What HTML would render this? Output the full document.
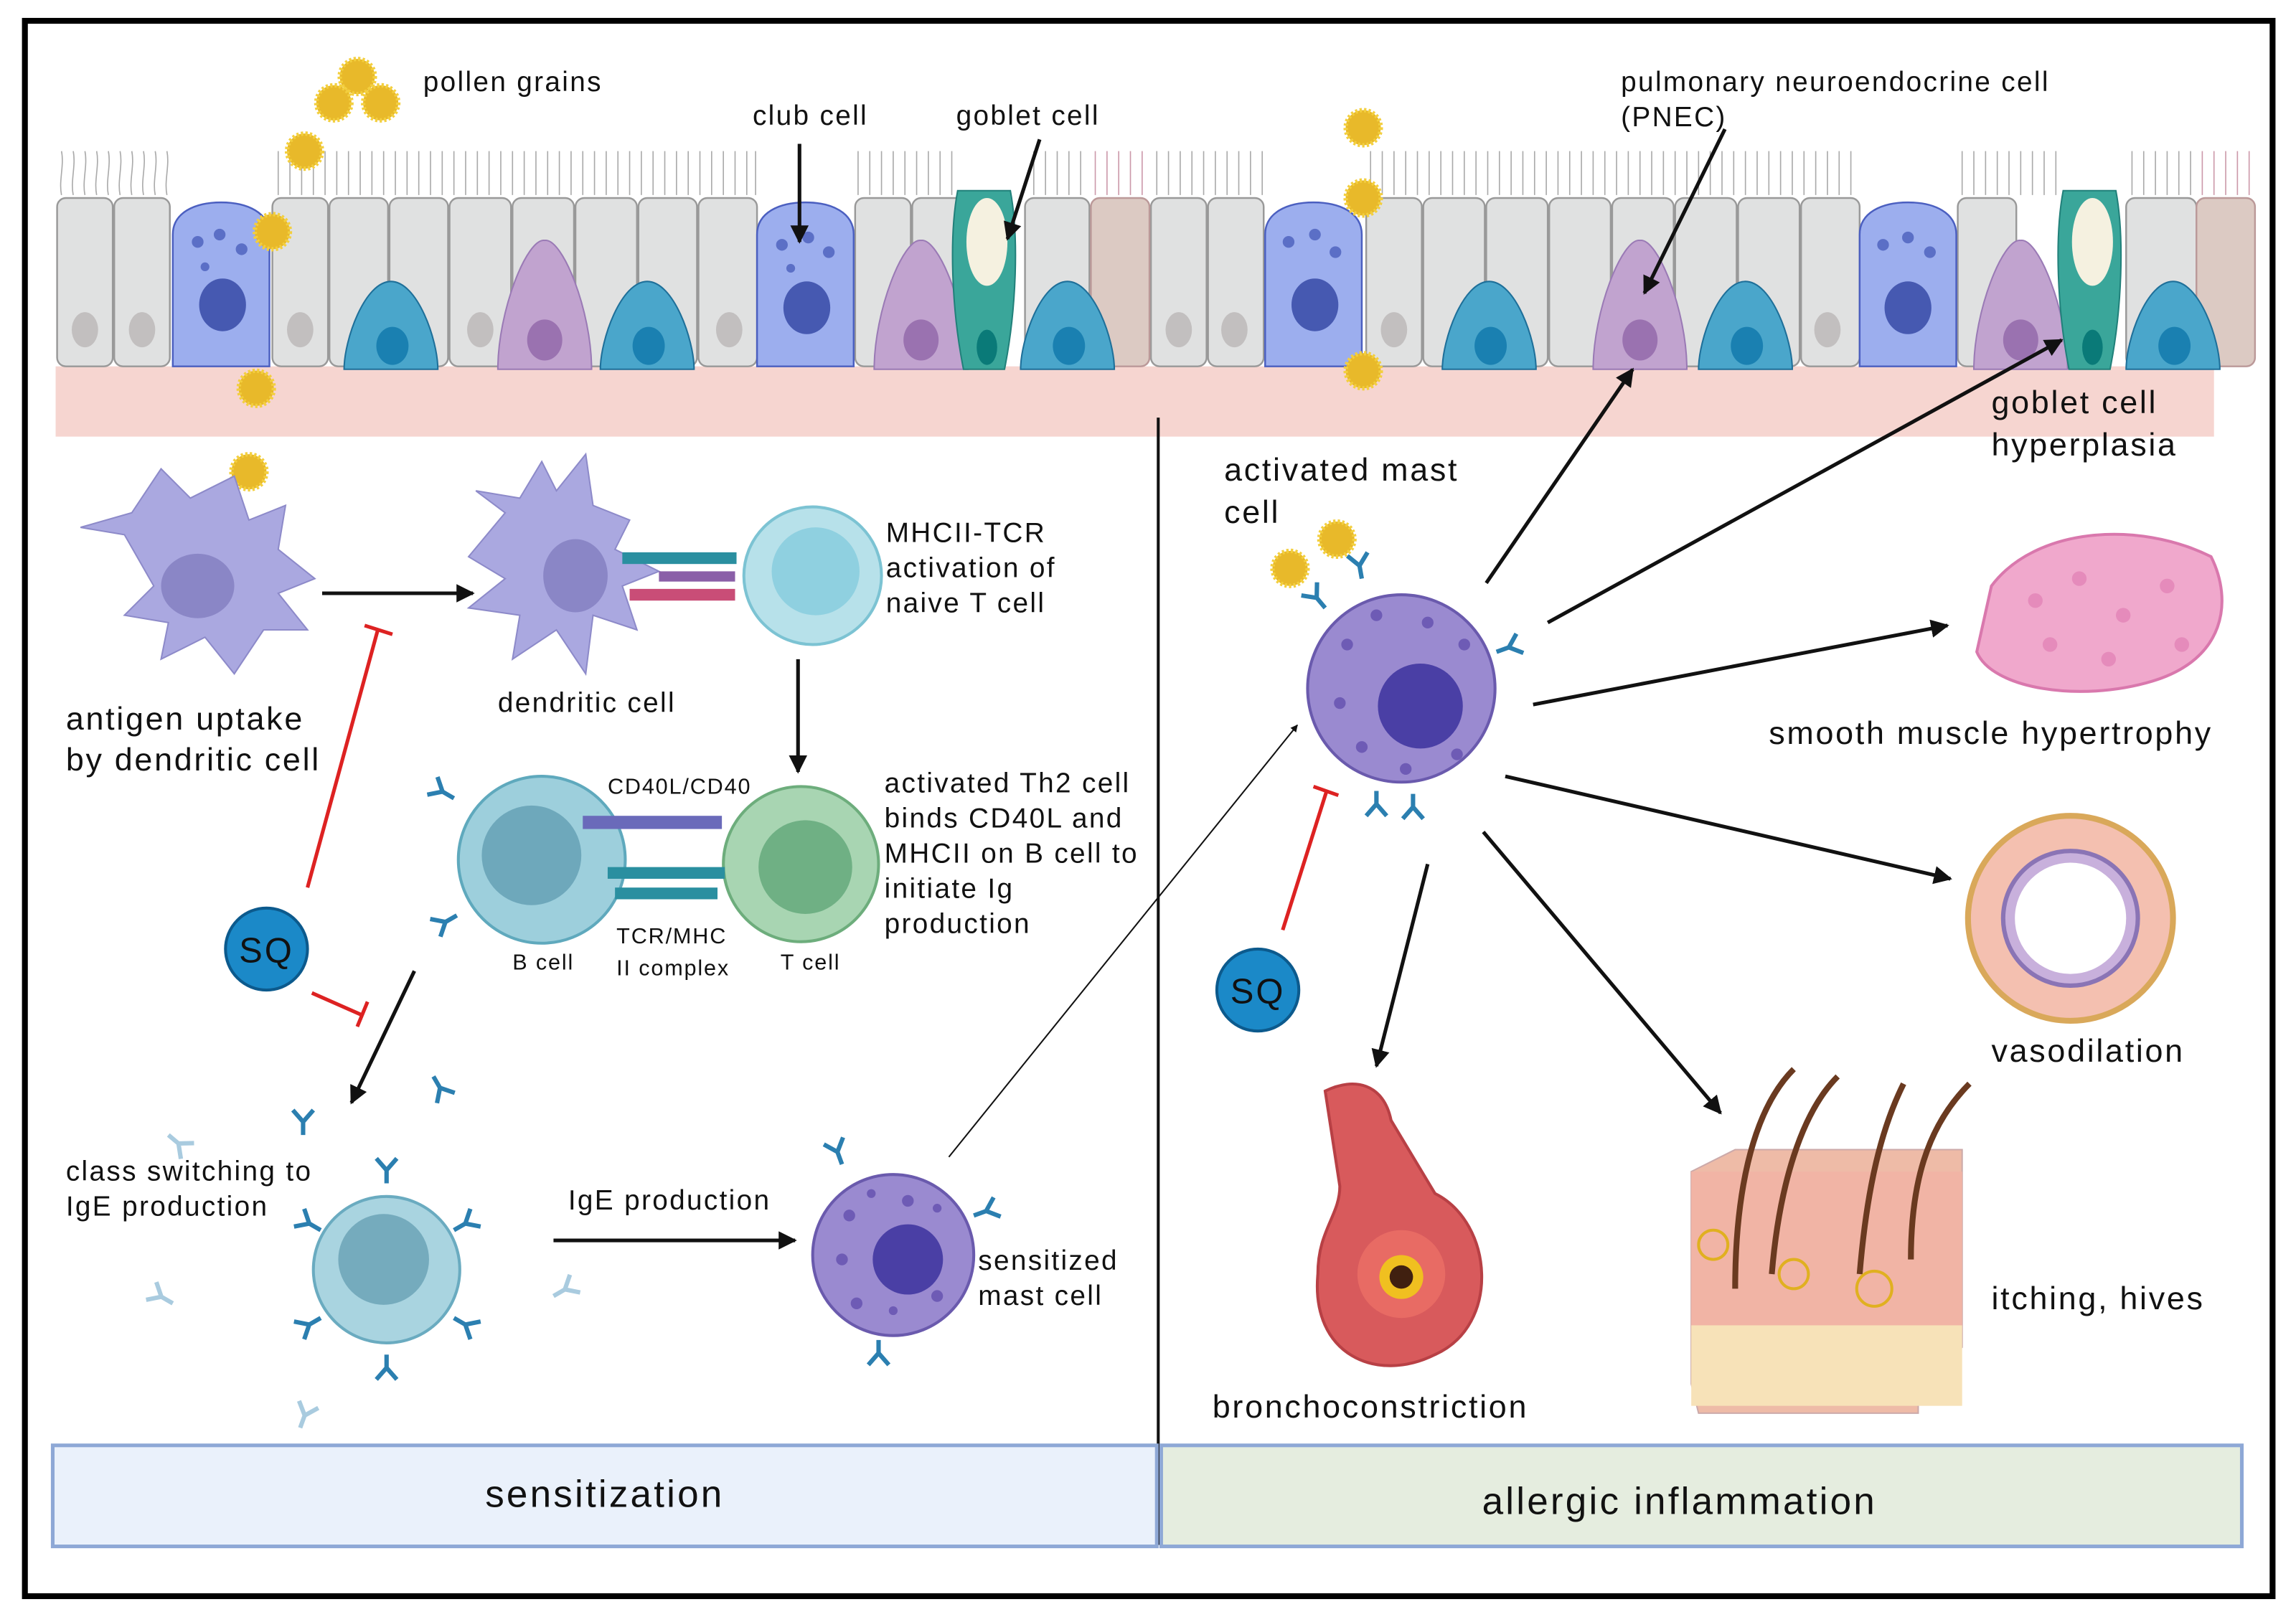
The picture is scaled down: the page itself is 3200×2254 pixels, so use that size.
<!DOCTYPE html>
<html><head><meta charset="utf-8"><style>
html,body{margin:0;padding:0;background:#fff}
svg{display:block}
text{font-family:"Liberation Sans",sans-serif;fill:#111;letter-spacing:0.06em}
</style></head><body>
<svg width="3200" height="2254" viewBox="0 0 1568 1104" xmlns="http://www.w3.org/2000/svg">
<defs>
<marker id="ah" viewBox="0 0 10 10" refX="9" refY="5" markerWidth="5" markerHeight="5" orient="auto"><path d="M0,0L10,5L0,10z" fill="#111"/></marker>
<g id="pol"><circle r="12" fill="#e8b92a" stroke="#f3cf3e" stroke-width="3" stroke-dasharray="1.5 1.5"/></g>
<g id="ab" stroke="#2b7fb0" stroke-width="3" fill="none"><path d="M0,0v-9M0,-9l-7,-8M0,-9l7,-8"/></g>
</defs>
<rect x="17" y="14" width="1535" height="1076" fill="#fff" stroke="#000" stroke-width="4"/>
<rect x="38" y="250" width="1474" height="48" fill="#f6d5d0"/>
<g fill="#e0e1e1" stroke="#999" stroke-width="1.2">
<rect x="39" y="135" width="38" height="115" rx="6"/><rect x="78" y="135" width="38" height="115" rx="6"/>
<rect x="186" y="135" width="38" height="115" rx="6"/><rect x="225" y="135" width="40" height="115" rx="6"/><rect x="266" y="135" width="40" height="115" rx="6"/><rect x="307" y="135" width="42" height="115" rx="6"/><rect x="350" y="135" width="42" height="115" rx="6"/><rect x="393" y="135" width="42" height="115" rx="6"/><rect x="436" y="135" width="40" height="115" rx="6"/><rect x="477" y="135" width="40" height="115" rx="6"/>
<rect x="584" y="135" width="38" height="115" rx="6"/><rect x="623" y="135" width="38" height="115" rx="6"/><rect x="700" y="135" width="44" height="115" rx="6"/>
<rect x="786" y="135" width="38" height="115" rx="6"/><rect x="825" y="135" width="38" height="115" rx="6"/>
<rect x="933" y="135" width="38" height="115" rx="6"/><rect x="972" y="135" width="42" height="115" rx="6"/><rect x="1015" y="135" width="42" height="115" rx="6"/><rect x="1058" y="135" width="42" height="115" rx="6"/><rect x="1101" y="135" width="42" height="115" rx="6"/><rect x="1144" y="135" width="42" height="115" rx="6"/><rect x="1187" y="135" width="42" height="115" rx="6"/><rect x="1230" y="135" width="40" height="115" rx="6"/>
<rect x="1337" y="135" width="40" height="115" rx="6"/><rect x="1452" y="135" width="48" height="115" rx="6"/>
</g>
<g fill="#dccac3" stroke="#b99" stroke-width="1.2"><rect x="745" y="135" width="40" height="115" rx="6"/><rect x="1500" y="135" width="40" height="115" rx="6"/></g>
<g fill="#c2bfbf"><ellipse cx="58" cy="225" rx="9" ry="12"/><ellipse cx="97" cy="225" rx="9" ry="12"/><ellipse cx="205" cy="225" rx="9" ry="12"/><ellipse cx="328" cy="225" rx="9" ry="12"/><ellipse cx="498" cy="225" rx="9" ry="12"/><ellipse cx="805" cy="225" rx="9" ry="12"/><ellipse cx="843" cy="225" rx="9" ry="12"/><ellipse cx="952" cy="225" rx="9" ry="12"/><ellipse cx="1248" cy="225" rx="9" ry="12"/></g>
<g stroke="#aaa" stroke-width="0.8" fill="none">
<path d="M42,133c-2,-10 2,-20 0,-30M50,133c-2,-10 2,-20 0,-30M58,133c-2,-10 2,-20 0,-30M66,133c-2,-10 2,-20 0,-30M74,133c-2,-10 2,-20 0,-30M82,133c-2,-10 2,-20 0,-30M90,133c-2,-10 2,-20 0,-30M98,133c-2,-10 2,-20 0,-30M106,133c-2,-10 2,-20 0,-30M114,133c-2,-10 2,-20 0,-30"/>
<path d="M190,133v-30M198,133v-30M206,133v-30M214,133v-30M222,133v-30M230,133v-30M238,133v-30M246,133v-30M254,133v-30M262,133v-30M270,133v-30M278,133v-30M286,133v-30M294,133v-30M302,133v-30M310,133v-30M318,133v-30M326,133v-30M334,133v-30M342,133v-30M350,133v-30M358,133v-30M366,133v-30M374,133v-30M382,133v-30M390,133v-30M398,133v-30M406,133v-30M414,133v-30M422,133v-30M430,133v-30M438,133v-30M446,133v-30M454,133v-30M462,133v-30M470,133v-30M478,133v-30M486,133v-30M494,133v-30M502,133v-30M510,133v-30M516,133v-30"/>
<path d="M586,133v-30M594,133v-30M602,133v-30M610,133v-30M618,133v-30M626,133v-30M634,133v-30M642,133v-30M650,133v-30M706,133v-30M714,133v-30M722,133v-30M730,133v-30M738,133v-30M790,133v-30M798,133v-30M806,133v-30M814,133v-30M822,133v-30M830,133v-30M838,133v-30M846,133v-30M854,133v-30M862,133v-30"/>
<path d="M936,133v-30M944,133v-30M952,133v-30M960,133v-30M968,133v-30M976,133v-30M984,133v-30M992,133v-30M1000,133v-30M1008,133v-30M1016,133v-30M1024,133v-30M1032,133v-30M1040,133v-30M1048,133v-30M1056,133v-30M1064,133v-30M1072,133v-30M1080,133v-30M1088,133v-30M1096,133v-30M1104,133v-30M1112,133v-30M1120,133v-30M1128,133v-30M1136,133v-30M1144,133v-30M1152,133v-30M1160,133v-30M1168,133v-30M1176,133v-30M1184,133v-30M1192,133v-30M1200,133v-30M1208,133v-30M1216,133v-30M1224,133v-30M1232,133v-30M1240,133v-30M1248,133v-30M1256,133v-30M1264,133v-30"/>
<path d="M1340,133v-30M1348,133v-30M1356,133v-30M1364,133v-30M1372,133v-30M1380,133v-30M1388,133v-30M1396,133v-30M1404,133v-30M1456,133v-30M1464,133v-30M1472,133v-30M1480,133v-30M1488,133v-30M1496,133v-30"/>
</g>
<g stroke="#c9a" stroke-width="0.8"><path d="M748,133v-30M756,133v-30M764,133v-30M772,133v-30M780,133v-30M1504,133v-30M1512,133v-30M1520,133v-30M1528,133v-30M1536,133v-30"/></g>
<g fill="#9caeee" stroke="#4b5fc0" stroke-width="1.2">
<path d="M118,250v-90c0,-15 15,-22 33,-22s33,7 33,22v90z"/>
<path d="M517,250v-90c0,-15 15,-22 33,-22s33,7 33,22v90z"/>
<path d="M864,250v-90c0,-15 15,-22 33,-22s33,7 33,22v90z"/>
<path d="M1270,250v-90c0,-15 15,-22 33,-22s33,7 33,22v90z"/>
</g>
<g fill="#4659b1"><ellipse cx="152" cy="208" rx="16" ry="18"/><ellipse cx="551" cy="210" rx="16" ry="18"/><ellipse cx="898" cy="208" rx="16" ry="18"/><ellipse cx="1303" cy="210" rx="16" ry="18"/></g>
<g fill="#5b6fc6"><circle cx="135" cy="165" r="4"/><circle cx="150" cy="160" r="4"/><circle cx="165" cy="170" r="4"/><circle cx="140" cy="182" r="3"/><circle cx="534" cy="167" r="4"/><circle cx="552" cy="162" r="4"/><circle cx="566" cy="172" r="4"/><circle cx="540" cy="183" r="3"/><circle cx="880" cy="165" r="4"/><circle cx="898" cy="160" r="4"/><circle cx="912" cy="172" r="4"/><circle cx="1286" cy="167" r="4"/><circle cx="1303" cy="162" r="4"/><circle cx="1318" cy="172" r="4"/></g>
<g fill="#c1a3cf" stroke="#9a7ab5" stroke-width="1"><path d="M340,252c0,-40 20,-90 32,-88c12,-2 32,48 32,88z"/><path d="M597,252c0,-40 20,-90 32,-88c12,-2 32,48 32,88z"/><path d="M1088,252c0,-40 20,-90 32,-88c12,-2 32,48 32,88z"/><path d="M1348,252c0,-40 20,-90 32,-88c12,-2 32,48 32,88z"/></g>
<g fill="#9a72b0"><ellipse cx="372" cy="232" rx="12" ry="14"/><ellipse cx="629" cy="232" rx="12" ry="14"/><ellipse cx="1120" cy="232" rx="12" ry="14"/><ellipse cx="1380" cy="232" rx="12" ry="14"/></g>
<g fill="#4aa6cb" stroke="#1e6f99" stroke-width="1"><path d="M235,252c0,-20 14,-60 32,-60s32,40 32,60z"/><path d="M410,252c0,-20 14,-60 32,-60s32,40 32,60z"/><path d="M697,252c0,-20 14,-60 32,-60s32,40 32,60z"/><path d="M985,252c0,-20 14,-60 32,-60s32,40 32,60z"/><path d="M1160,252c0,-20 14,-60 32,-60s32,40 32,60z"/><path d="M1452,252c0,-20 14,-60 32,-60s32,40 32,60z"/></g>
<g fill="#1a80b1"><ellipse cx="268" cy="236" rx="11" ry="13"/><ellipse cx="443" cy="236" rx="11" ry="13"/><ellipse cx="730" cy="236" rx="11" ry="13"/><ellipse cx="1018" cy="236" rx="11" ry="13"/><ellipse cx="1193" cy="236" rx="11" ry="13"/><ellipse cx="1485" cy="236" rx="11" ry="13"/></g>
<g fill="#3aa69a" stroke="#21807a" stroke-width="1"><path d="M658,252c-8,-40 -10,-90 -4,-122h36c6,32 4,82 -4,122z"/><path d="M1413,252c-8,-40 -10,-90 -4,-122h36c6,32 4,82 -4,122z"/></g>
<g fill="#f5f1e0"><ellipse cx="674" cy="165" rx="14" ry="30"/><ellipse cx="1429" cy="165" rx="14" ry="30"/></g>
<g fill="#0a7a78"><ellipse cx="674" cy="237" rx="7" ry="12"/><ellipse cx="1429" cy="237" rx="7" ry="12"/></g>
<use href="#pol" x="244" y="52"/><use href="#pol" x="228" y="70"/><use href="#pol" x="260" y="70"/><use href="#pol" x="208" y="103"/><use href="#pol" x="186" y="158"/><use href="#pol" x="175" y="265"/><use href="#pol" x="931" y="87"/><use href="#pol" x="931" y="135"/><use href="#pol" x="931" y="253"/><use href="#pol" x="170" y="322"/><use href="#pol" x="881" y="388"/><use href="#pol" x="913" y="368"/>
<text x="289" y="62" font-size="19">pollen grains</text>
<text x="514" y="85" font-size="19">club cell</text>
<text x="653" y="85" font-size="19">goblet cell</text>
<text x="1107" y="62" font-size="19">pulmonary neuroendocrine cell</text>
<text x="1107" y="86" font-size="19">(PNEC)</text>
<g stroke="#111" stroke-width="2.5" fill="none" marker-end="url(#ah)">
<line x1="546" y1="98" x2="546" y2="165"/><line x1="710" y1="95" x2="688" y2="163"/><line x1="1178" y1="88" x2="1123" y2="200"/>
</g>
<line x1="791" y1="285" x2="791" y2="1055" stroke="#111" stroke-width="2"/>
<g fill="#aaa8e0" stroke="#8d8ac9" stroke-width="1"><path d="M85,365l-30,-5 35,-10 20,-30 20,20 30,-15 10,30 25,-10 -5,30 25,20 -25,10 20,25 -30,0 -20,30 -20,-25 -30,15 5,-25 -30,-5 20,-20z"/>
<path d="M345,350l-20,-15 30,5 15,-25 10,20 20,-25 5,35 25,10 -10,20 30,15 -25,10 10,30 -30,-10 -5,40 -20,-30 -30,20 5,-30 -35,-5 25,-20 -25,-15z"/></g>
<ellipse cx="135" cy="400" rx="25" ry="22" fill="#8a86c6"/><ellipse cx="393" cy="393" rx="22" ry="25" fill="#8a86c6"/>
<text x="45" y="498" font-size="22">antigen uptake</text><text x="45" y="526" font-size="22">by dendritic cell</text>
<text x="340" y="486" font-size="19">dendritic cell</text>
<line x1="220" y1="405" x2="323" y2="405" stroke="#111" stroke-width="2.5" marker-end="url(#ah)"/>
<circle cx="555" cy="393" r="47" fill="#b7e1ea" stroke="#7cc3d3" stroke-width="2"/><circle cx="557" cy="390" r="30" fill="#8fd0e0"/>
<rect x="425" y="377" width="78" height="8" fill="#2a8fa0"/><rect x="450" y="390" width="52" height="7" fill="#8a5fa8"/><rect x="430" y="402" width="72" height="8" fill="#c94d77"/>
<text x="605" y="370" font-size="19">MHCII-TCR</text><text x="605" y="394" font-size="19">activation of</text><text x="605" y="418" font-size="19">naive T cell</text>
<line x1="545" y1="450" x2="545" y2="527" stroke="#111" stroke-width="2.5" marker-end="url(#ah)"/>
<circle cx="370" cy="587" r="57" fill="#9dcfdc" stroke="#5fa9bd" stroke-width="2"/><circle cx="363" cy="584" r="34" fill="#6ea8bb"/>
<circle cx="547" cy="590" r="53" fill="#a8d5b2" stroke="#6dad7c" stroke-width="2"/><circle cx="550" cy="592" r="32" fill="#6fb084"/>
<rect x="398" y="557" width="95" height="9" fill="#6a6aba"/><rect x="415" y="592" width="80" height="8" fill="#2a8fa0"/><rect x="420" y="606" width="70" height="8" fill="#2a8fa0"/>
<use href="#ab" x="310" y="545" transform="rotate(-60 310 545)"/><use href="#ab" x="312" y="625" transform="rotate(-120 312 625)"/>
<text x="415" y="542" font-size="15">CD40L/CD40</text><text x="421" y="644" font-size="15">TCR/MHC</text><text x="421" y="666" font-size="15">II complex</text>
<text x="350" y="662" font-size="15">B cell</text><text x="533" y="662" font-size="15">T cell</text>
<text x="604" y="541" font-size="19">activated Th2 cell</text><text x="604" y="565" font-size="19">binds CD40L and</text><text x="604" y="589" font-size="19">MHCII on B cell to</text><text x="604" y="613" font-size="19">initiate Ig</text><text x="604" y="637" font-size="19">production</text>
<circle cx="182" cy="648" r="28" fill="#1b89c8" stroke="#0c5a8d" stroke-width="2"/><text x="182" y="657" font-size="24" text-anchor="middle">SQ</text>
<g stroke="#d22" stroke-width="2.5"><line x1="210" y1="606" x2="258" y2="430"/><line x1="249" y1="427" x2="268" y2="433"/><line x1="213" y1="678" x2="247" y2="693"/><line x1="251" y1="684" x2="244" y2="701"/></g>
<line x1="283" y1="663" x2="240" y2="753" stroke="#111" stroke-width="2.5" marker-end="url(#ah)"/>
<circle cx="264" cy="867" r="50" fill="#a9d4e0" stroke="#6aabc0" stroke-width="2"/><circle cx="262" cy="860" r="31" fill="#75abbd"/>
<g><use href="#ab" x="264" y="808"/><use href="#ab" x="264" y="925" transform="rotate(180 264 925)"/><use href="#ab" x="219" y="840" transform="rotate(-60 219 840)"/><use href="#ab" x="310" y="840" transform="rotate(60 310 840)"/><use href="#ab" x="219" y="900" transform="rotate(-120 219 900)"/><use href="#ab" x="310" y="900" transform="rotate(120 310 900)"/><use href="#ab" x="207" y="775"/><use href="#ab" x="296" y="735" transform="rotate(150 296 735)"/></g>
<g opacity="0.4"><use href="#ab" x="115" y="775" transform="rotate(130 115 775)"/><use href="#ab" x="118" y="890" transform="rotate(-60 118 890)"/><use href="#ab" x="378" y="885" transform="rotate(60 378 885)"/><use href="#ab" x="205" y="975" transform="rotate(20 205 975)"/></g>
<text x="45" y="806" font-size="19">class switching to</text><text x="45" y="830" font-size="19">IgE production</text>
<text x="388" y="826" font-size="19">IgE production</text>
<line x1="378" y1="847" x2="543" y2="847" stroke="#111" stroke-width="2.5" marker-end="url(#ah)"/>
<circle cx="610" cy="857" r="55" fill="#9a8ad0" stroke="#6a5aad" stroke-width="2"/><circle cx="620" cy="860" r="24" fill="#4a3fa5"/>
<g fill="#6e5bb5"><circle cx="580" cy="830" r="4"/><circle cx="595" cy="815" r="3"/><circle cx="575" cy="860" r="4"/><circle cx="585" cy="890" r="4"/><circle cx="610" cy="895" r="3"/><circle cx="640" cy="885" r="4"/><circle cx="640" cy="825" r="3"/><circle cx="620" cy="820" r="4"/></g>
<use href="#ab" x="575" y="795" transform="rotate(-20 575 795)"/><use href="#ab" x="665" y="830" transform="rotate(70 665 830)"/><use href="#ab" x="600" y="915" transform="rotate(180 600 915)"/>
<text x="668" y="867" font-size="19">sensitized</text><text x="668" y="891" font-size="19">mast cell</text>
<line x1="648" y1="790" x2="886" y2="495" stroke="#111" stroke-width="1" marker-end="url(#ah)"/>
<circle cx="957" cy="470" r="64" fill="#9a8ad0" stroke="#6a5aad" stroke-width="2"/><circle cx="970" cy="482" r="29" fill="#4a3fa5"/>
<g fill="#6e5bb5"><circle cx="920" cy="440" r="4"/><circle cx="940" cy="420" r="4"/><circle cx="915" cy="480" r="4"/><circle cx="930" cy="510" r="4"/><circle cx="960" cy="525" r="4"/><circle cx="995" cy="515" r="4"/><circle cx="1000" cy="440" r="4"/><circle cx="975" cy="425" r="4"/></g>
<use href="#ab" x="905" y="415" transform="rotate(-40 905 415)"/><use href="#ab" x="930" y="395" transform="rotate(-10 930 395)"/><use href="#ab" x="1022" y="445" transform="rotate(70 1022 445)"/><use href="#ab" x="940" y="540" transform="rotate(180 940 540)"/><use href="#ab" x="965" y="542" transform="rotate(180 965 542)"/>
<text x="836" y="328" font-size="22">activated mast</text><text x="836" y="357" font-size="22">cell</text>
<circle cx="859" cy="676" r="28" fill="#1b89c8" stroke="#0c5a8d" stroke-width="2"/><text x="859" y="685" font-size="24" text-anchor="middle">SQ</text>
<g stroke="#d22" stroke-width="2.5"><line x1="876" y1="635" x2="906" y2="540"/><line x1="897" y1="537" x2="914" y2="543"/></g>
<g stroke="#111" stroke-width="2.5" marker-end="url(#ah)">
<line x1="1015" y1="398" x2="1115" y2="252"/><line x1="1057" y1="425" x2="1408" y2="232"/><line x1="1047" y1="481" x2="1330" y2="427"/><line x1="1028" y1="530" x2="1332" y2="600"/><line x1="1013" y1="568" x2="1175" y2="760"/><line x1="975" y1="590" x2="940" y2="728"/>
</g>
<text x="1360" y="282" font-size="22">goblet cell</text><text x="1360" y="311" font-size="22">hyperplasia</text>
<path d="M1360,400c30,-40 100,-45 150,-20c15,30 10,70 -40,85c-50,15 -110,5 -120,-20z" fill="#f0a8cc" stroke="#d978ad" stroke-width="2"/>
<g fill="#e58bbb"><circle cx="1390" cy="410" r="5"/><circle cx="1420" cy="395" r="5"/><circle cx="1450" cy="420" r="5"/><circle cx="1480" cy="400" r="5"/><circle cx="1400" cy="440" r="5"/><circle cx="1440" cy="450" r="5"/><circle cx="1490" cy="440" r="5"/></g>
<text x="1208" y="508" font-size="22">smooth muscle hypertrophy</text>
<circle cx="1414" cy="627" r="70" fill="#f4c0b0" stroke="#d9a85a" stroke-width="4"/><circle cx="1414" cy="627" r="46" fill="#c8b0dc" stroke="#8a74b5" stroke-width="3"/><circle cx="1414" cy="627" r="38" fill="#fff"/>
<text x="1360" y="725" font-size="22">vasodilation</text>
<path d="M905,745c20,-10 40,-5 45,20l30,50c40,20 45,90 0,110c-40,20 -85,0 -80,-55c0,-30 15,-40 15,-60z" fill="#d85a5c" stroke="#b84045" stroke-width="2"/>
<circle cx="957" cy="870" r="30" fill="#e86b64"/><circle cx="957" cy="872" r="15" fill="#f0c020"/><circle cx="957" cy="872" r="8" fill="#402010"/>
<text x="828" y="968" font-size="22">bronchoconstriction</text>
<path d="M1155,800l30,-15h155v135l-30,25v20h-150l-5,-20z" fill="#eebba7" stroke="#caa" stroke-width="1"/>
<rect x="1155" y="800" width="185" height="110" fill="#f1b4a5"/><rect x="1155" y="905" width="185" height="55" fill="#f7e2b8"/>
<g stroke="#6a3a20" stroke-width="4" fill="none"><path d="M1185,880c0,-60 10,-120 40,-150M1210,870c5,-60 20,-110 45,-135M1270,870c5,-60 15,-100 30,-130M1305,860c0,-50 10,-90 40,-120"/></g>
<g stroke="#e0b020" stroke-width="2" fill="none"><circle cx="1170" cy="850" r="10"/><circle cx="1225" cy="870" r="10"/><circle cx="1280" cy="880" r="12"/></g>
<text x="1360" y="894" font-size="22">itching, hives</text>
<rect x="36" y="987" width="754" height="69" fill="#eaf1fb" stroke="#8ea8d6" stroke-width="2.5"/>
<rect x="793" y="987" width="738" height="69" fill="#e5eddf" stroke="#8ea8d6" stroke-width="2.5"/>
<text x="413" y="1029" font-size="26" text-anchor="middle">sensitization</text>
<text x="1147" y="1034" font-size="26" text-anchor="middle">allergic inflammation</text>
</svg>
</body></html>
